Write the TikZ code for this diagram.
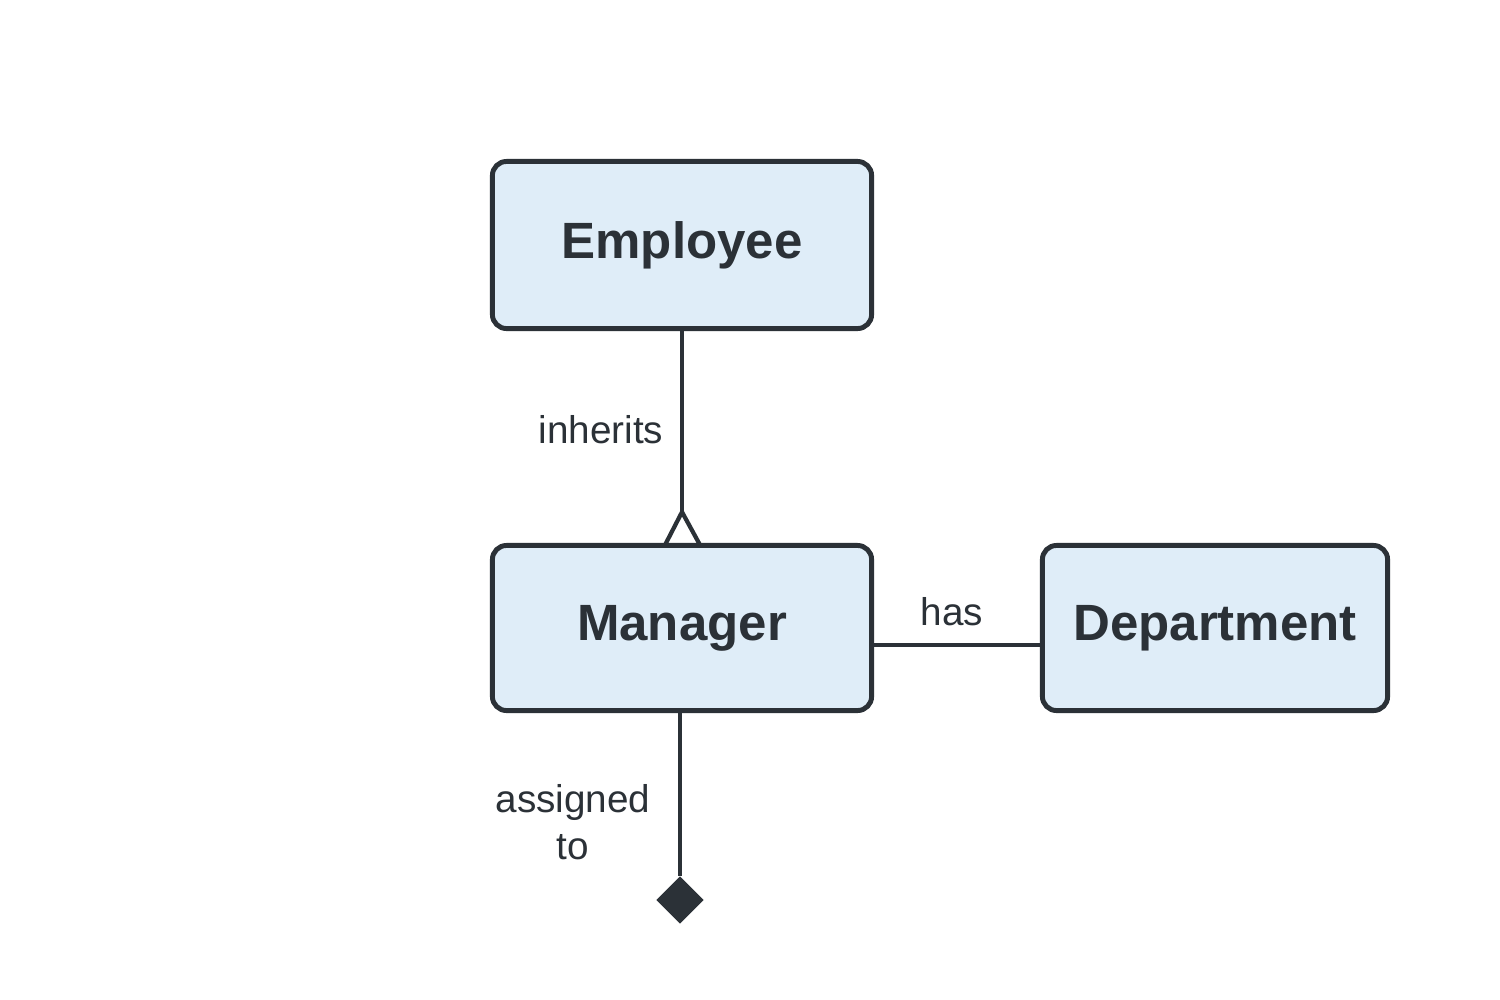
\documentclass[tikz,border=0pt]{standalone}
\usepackage{fontspec}
\setmainfont{Liberation Sans}
\usetikzlibrary{shapes.geometric}
\definecolor{ink}{HTML}{2B3137}
\definecolor{boxfill}{HTML}{DFEDF8}
\begin{document}
\begin{tikzpicture}[x=0.01cm,y=-0.01cm,
  entity/.style={draw=ink,line width=1.4pt,fill=boxfill,rounded corners=4pt,inner sep=0pt,font=\fontsize{14.5}{17}\selectfont\bfseries,text=ink},
  lbl/.style={font=\fontsize{11}{13.5}\selectfont,text=ink,align=center},
  conn/.style={draw=ink,line width=1.2pt}]
\useasboundingbox (0,0) rectangle (1500,1000);
\node[entity,minimum width=379\pgflinewidth/1.2pt*0.01cm,minimum width=3.79cm,minimum height=1.67cm] (emp) at (682,245) {Employee};
\node[entity,minimum width=3.79cm,minimum height=1.65cm] (mgr) at (682,628) {Manager};
\node[entity,minimum width=3.45cm,minimum height=1.65cm] (dep) at (1215,628) {Department};
\coordinate (tip) at (682,512);
\draw[conn] (emp.south) -- (tip);
\draw[conn,line join=miter] (665,545) -- (tip) -- (700,545);
\node[draw=ink,fill=ink,diamond,minimum width=0.46cm,minimum height=0.46cm,inner sep=0pt] (dia) at (680,900) {};
\draw[conn] (680,710) -- (dia.north);
\draw[conn] (mgr.east |- 0,645) -- (dep.west |- 0,645);
\node[lbl] (l1) at (601,430) {inherits};
\node[lbl] (l2) at (952,612) {has};
\node[lbl] (l3) at (573,822) {assigned\\to};
\end{tikzpicture}
\end{document}
